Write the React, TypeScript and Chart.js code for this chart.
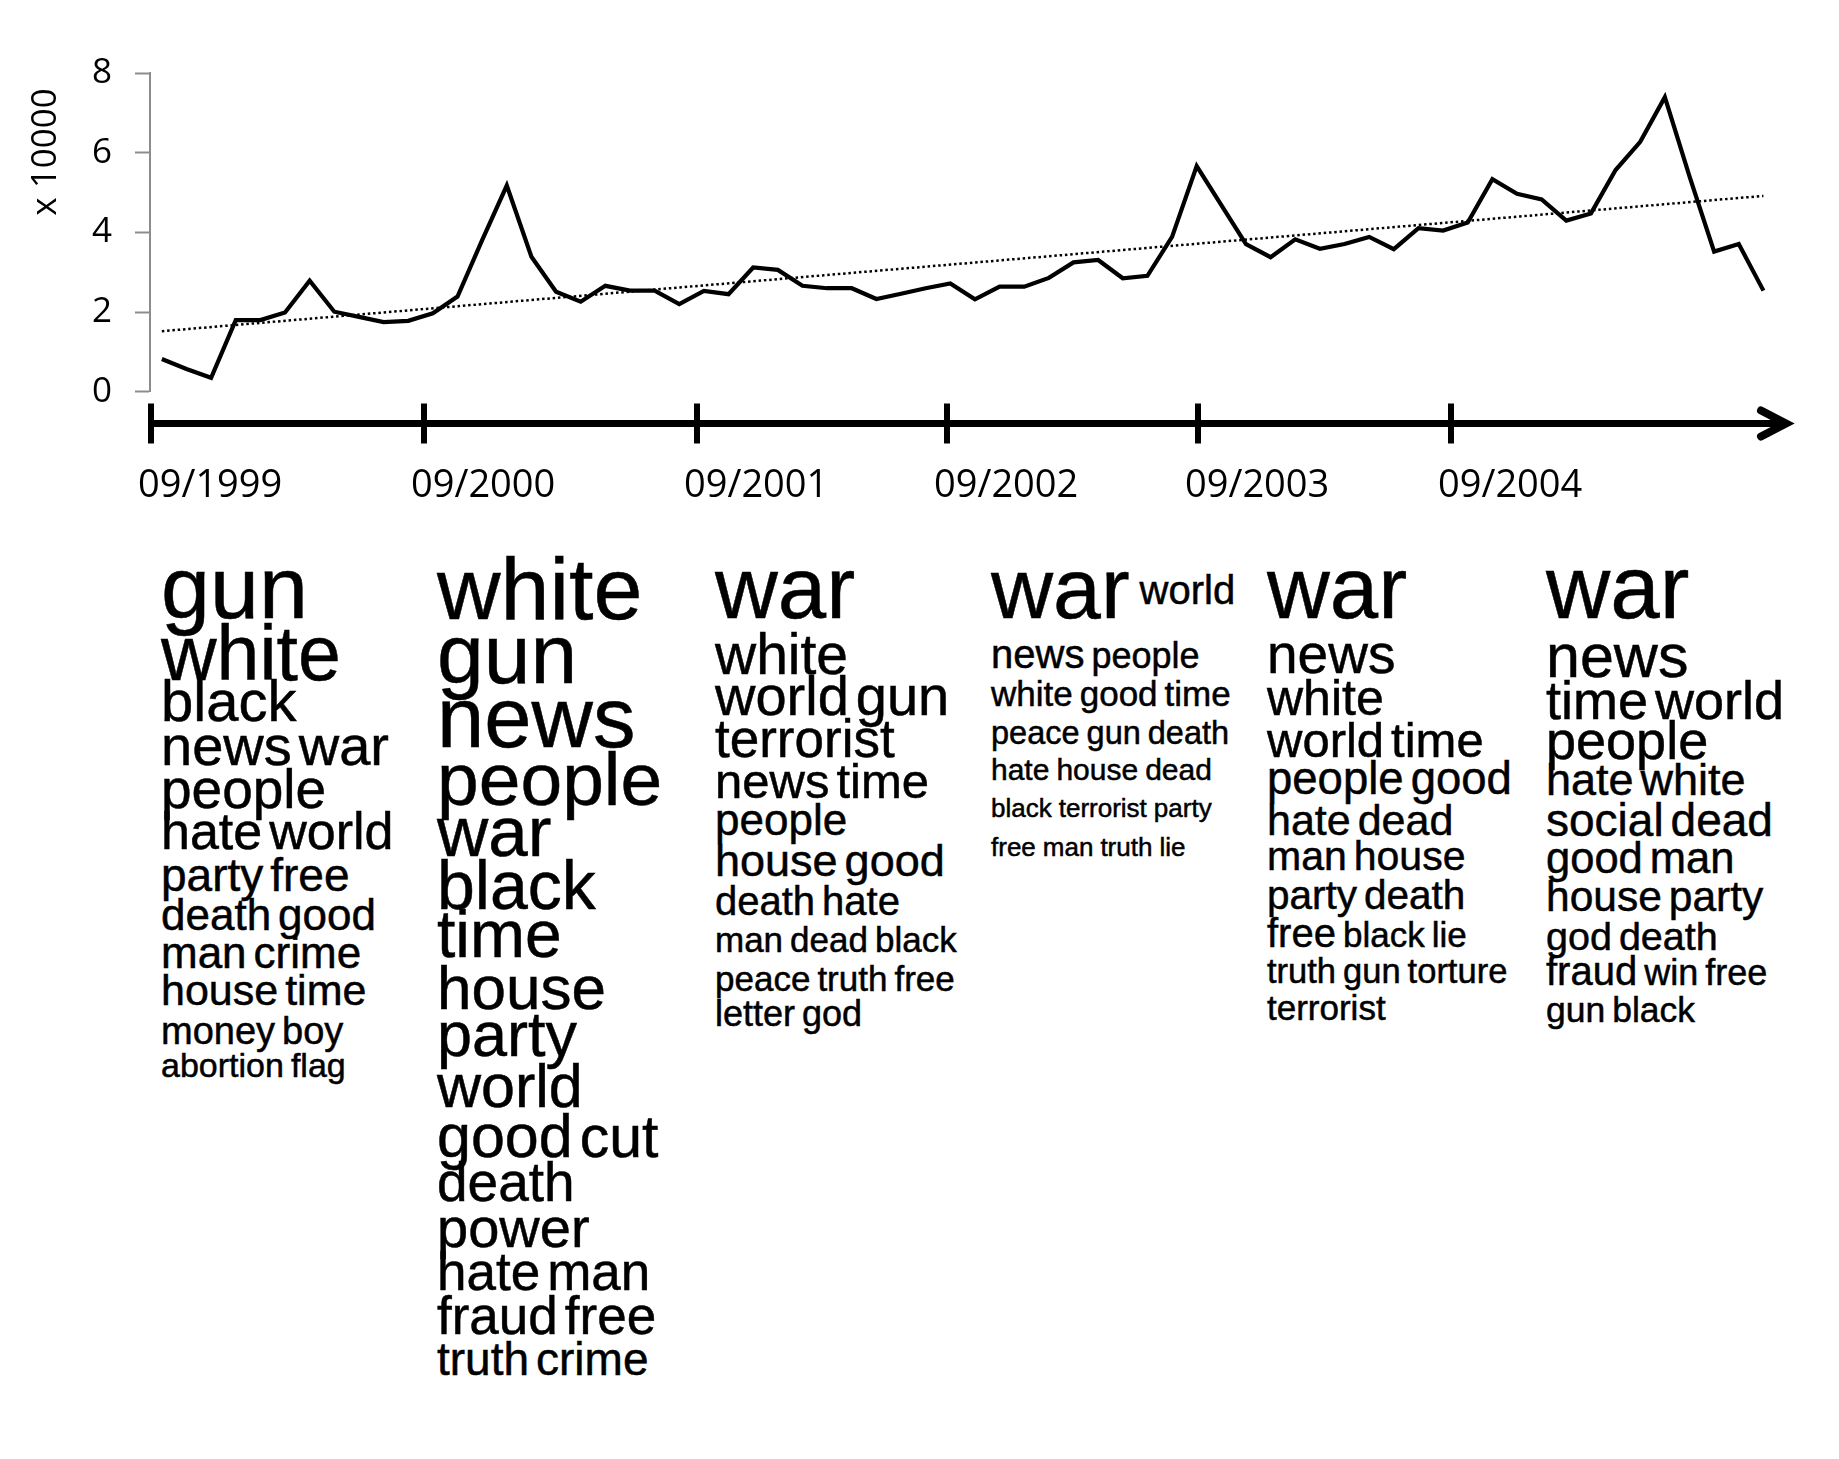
import React, { useEffect, useRef } from "react";
import { Chart, registerables } from "chart.js";

Chart.register(...registerables);

// ---------------- DATA ----------------
// monthly volume (x 10000), starting 09/1999
const monthlyVolume = [
  0.82, 0.57, 0.35, 1.8, 1.8, 1.99, 2.79, 2.01, 1.88, 1.75, 1.78, 1.97, 2.39,
  3.81, 5.18, 3.39, 2.51, 2.26, 2.66, 2.54, 2.54, 2.2, 2.53, 2.45, 3.12, 3.06,
  2.66, 2.6, 2.6, 2.33, 2.46, 2.6, 2.72, 2.32, 2.64, 2.64, 2.86, 3.25, 3.31,
  2.85, 2.91, 3.89, 5.67, 4.69, 3.71, 3.38, 3.83, 3.59, 3.71, 3.89, 3.58, 4.11,
  4.05, 4.25, 5.34, 4.97, 4.83, 4.3, 4.48, 5.57, 6.28, 7.4, 5.41, 3.52, 3.71,
  2.54,
];
// linear trend line, value at first and last month
const trendEnds = [1.52, 4.92];
const yTicks = [0, 2, 4, 6, 8];
const yAxisTitle = "x 10000";
const timelineLabels = ["09/1999", "09/2000", "09/2001", "09/2002", "09/2003", "09/2004"];

// word clouds: each line is a list of [word, weight]
type Word = [string, number, number?];
const cloud1999: Word[][] = [
  [["gun", 88]],
  [["white", 77]],
  [["black", 58]],
  [["news", 56], ["war", 56]],
  [["people", 55]],
  [["hate", 52], ["world", 52]],
  [["party", 46], ["free", 46]],
  [["death", 44], ["good", 44]],
  [["man", 44], ["crime", 44]],
  [["house", 43], ["time", 43]],
  [["money", 38], ["boy", 38]],
  [["abortion", 34], ["flag", 34]],
];
const cloud2000: Word[][] = [
  [["white", 88]],
  [["gun", 84]],
  [["news", 85]],
  [["people", 75]],
  [["war", 71]],
  [["black", 68]],
  [["time", 66]],
  [["house", 62]],
  [["party", 63]],
  [["world", 61]],
  [["good", 61], ["cut", 59]],
  [["death", 55]],
  [["power", 56]],
  [["hate", 53], ["man", 53]],
  [["fraud", 53], ["free", 53]],
  [["truth", 46], ["crime", 46]],
];
const cloud2001: Word[][] = [
  [["war", 87]],
  [["white", 57]],
  [["world", 56], ["gun", 56]],
  [["terrorist", 53]],
  [["news", 49], ["time", 49]],
  [["people", 44]],
  [["house", 45], ["good", 45]],
  [["death", 40], ["hate", 40]],
  [["man", 35], ["dead", 35], ["black", 35]],
  [["peace", 35], ["truth", 35], ["free", 35]],
  [["letter", 36], ["god", 36]],
];
const cloud2002: Word[][] = [
  [["war", 86], ["world", 40, 14]],
  [["news", 40], ["people", 36]],
  [["white", 35], ["good", 35], ["time", 35]],
  [["peace", 32.5], ["gun", 32.5], ["death", 32.5]],
  [["hate", 30], ["house", 30], ["dead", 30]],
  [["black", 26], ["terrorist", 26], ["party", 26]],
  [["free", 26], ["man", 26], ["truth", 26], ["lie", 26]],
];
const cloud2003: Word[][] = [
  [["war", 87]],
  [["news", 55]],
  [["white", 50]],
  [["world", 49], ["time", 49]],
  [["people", 45.5], ["good", 45.5]],
  [["hate", 43], ["dead", 43]],
  [["man", 41], ["house", 41]],
  [["party", 40.5], ["death", 40.5]],
  [["free", 40], ["black", 35], ["lie", 35]],
  [["truth", 34.5], ["gun", 34.5], ["torture", 34.5]],
  [["terrorist", 35]],
];
const cloud2004: Word[][] = [
  [["war", 89]],
  [["news", 61]],
  [["time", 54], ["world", 54]],
  [["people", 54]],
  [["hate", 45], ["white", 45]],
  [["social", 46], ["dead", 46]],
  [["good", 43.5], ["man", 43.5]],
  [["house", 42.5], ["party", 42.5]],
  [["god", 39.5], ["death", 39.5]],
  [["fraud", 40], ["win", 36], ["free", 36]],
  [["gun", 35.5], ["black", 35.5]],
];

// ---------------- LAYOUT ----------------
const clouds = [cloud1999, cloud2000, cloud2001, cloud2002, cloud2003, cloud2004];
const cloudLeft = [161, 437, 715, 991, 1267, 1546];
const cloudBaselines = [
  [618, 680, 721, 765, 809, 849, 891, 930, 968, 1005, 1044, 1077],
  [619, 683, 747, 805, 856, 909, 957, 1009, 1056, 1108, 1158, 1202, 1247, 1290, 1334, 1375],
  [618, 674, 715, 757, 798, 835, 876, 915, 952, 991, 1026],
  [618, 668, 706, 745, 780, 817, 856],
  [618, 674, 715, 757, 795, 835, 871, 909, 947, 983, 1020],
  [618, 678, 719, 759, 795, 836, 874, 912, 950, 985, 1023],
];
const WORD_GAP = 7;
const timelineTickPx = [151, 424, 697, 947, 1198, 1451];
const TL_Y = 423.5;

const CLOUD_FONT = '"Liberation Sans", Arial, Helvetica, sans-serif';
const AXIS_FONT = '"Open Sans", sans-serif';

const timelinePlugin = {
  id: "timeline",
  afterDraw(chart: any) {
    const ctx = chart.ctx as CanvasRenderingContext2D;
    ctx.save();
    ctx.strokeStyle = "#000";
    ctx.fillStyle = "#000";
    // main bar
    ctx.lineWidth = 7;
    ctx.lineCap = "butt";
    ctx.beginPath();
    ctx.moveTo(timelineTickPx[0], TL_Y);
    ctx.lineTo(1786, TL_Y);
    ctx.stroke();
    // ticks
    ctx.lineWidth = 6;
    for (const x of timelineTickPx) {
      ctx.beginPath();
      ctx.moveTo(x, TL_Y - 20);
      ctx.lineTo(x, TL_Y + 20);
      ctx.stroke();
    }
    // arrow head
    ctx.lineWidth = 8;
    ctx.lineCap = "round";
    ctx.lineJoin = "miter";
    ctx.beginPath();
    ctx.moveTo(1761, 410.5);
    ctx.lineTo(1786, TL_Y);
    ctx.lineTo(1761, 436.5);
    ctx.stroke();
    // labels
    ctx.font = `38px ${AXIS_FONT}`;
    ctx.textAlign = "left";
    ctx.textBaseline = "alphabetic";
    timelineLabels.forEach((lab, i) => {
      ctx.fillText(lab, timelineTickPx[i] - 13, 497);
    });
    // y axis title
    ctx.translate(46, 152);
    ctx.rotate(-Math.PI / 2);
    ctx.font = `35px ${AXIS_FONT}`;
    ctx.textAlign = "center";
    ctx.textBaseline = "middle";
    ctx.fillText(yAxisTitle, 0, 0);
    ctx.restore();
  },
};

function ChartPanel() {
  const ref = useRef<HTMLCanvasElement | null>(null);
  useEffect(() => {
    if (!ref.current) return;
    const lastIdx = monthlyVolume.length - 1;
    const chart = new Chart(ref.current, {
      type: "line",
      data: {
        datasets: [
          {
            data: monthlyVolume.map((v, i) => ({ x: i, y: v })),
            borderColor: "#000",
            borderWidth: 4.2,
            pointRadius: 0,
            tension: 0,
            fill: false,
            borderJoinStyle: "miter",
          },
          {
            data: [
              { x: 0, y: trendEnds[0] },
              { x: lastIdx, y: trendEnds[1] },
            ],
            borderColor: "#000",
            borderWidth: 2.5,
            borderDash: [2.5, 2.8],
            pointRadius: 0,
            fill: false,
          },
        ],
      } as any,
      options: {
        responsive: false,
        animation: false,
        devicePixelRatio: 1,
        layout: { padding: { left: 0, top: 73.3, right: 64, bottom: 128.3 } },
        plugins: {
          legend: { display: false },
          tooltip: { enabled: false },
        },
        scales: {
          x: { type: "linear", display: false, min: -0.48, max: lastIdx + 0.47 },
          y: {
            min: 0,
            max: 8,
            afterBuildTicks: (scale: any) => {
              scale.ticks = yTicks.map((v) => ({ value: v }));
            },
            afterFit: (scale: any) => {
              scale.width = 150;
            },
            ticks: {
              color: "#000",
              font: { family: AXIS_FONT, size: 35 },
              padding: 23,
            },
            grid: {
              drawOnChartArea: false,
              drawTicks: true,
              tickLength: 15,
              tickColor: "#8c8c8c",
              tickWidth: 2,
            },
            border: { display: true, color: "#8c8c8c", width: 2 },
          },
        },
      } as any,
      plugins: [timelinePlugin],
    });
    return () => chart.destroy();
  }, []);
  return (
    <canvas
      ref={ref}
      width={1839}
      height={520}
      style={{ position: "absolute", left: 0, top: 0, width: 1839, height: 520, display: "block" }}
    />
  );
}

function WordCloud({ lines, left, baselines }: { lines: Word[][]; left: number; baselines: number[] }) {
  return (
    <>
      {lines.map((line, li) => {
        const maxSize = Math.max(...line.map((w) => w[1]));
        return (
          <div
            key={li}
            style={{
              position: "absolute",
              left,
              top: baselines[li] - 0.8465 * maxSize,
              fontFamily: CLOUD_FONT,
              fontSize: maxSize,
              lineHeight: 1,
              whiteSpace: "nowrap",
              color: "#000",
              WebkitTextStroke: "0.5px #000",
            }}
          >
            {line.map((w, wi) => (
              <span
                key={wi}
                style={{
                  fontSize: w[1],
                  lineHeight: 1,
                  marginLeft: wi > 0 ? (w[2] ? 10 : WORD_GAP) : 0,
                  position: "relative",
                  top: w[2] ? -w[2] : 0,
                }}
              >
                {w[0]}
              </span>
            ))}
          </div>
        );
      })}
    </>
  );
}

export default function App() {
  return (
    <div
      style={{
        position: "absolute",
        left: 0,
        top: 0,
        width: 1839,
        height: 1459,
        background: "#fff",
        overflow: "hidden",
      }}
    >
      <ChartPanel />
      {clouds.map((c, i) => (
        <WordCloud key={i} lines={c} left={cloudLeft[i]} baselines={cloudBaselines[i]} />
      ))}
    </div>
  );
}
